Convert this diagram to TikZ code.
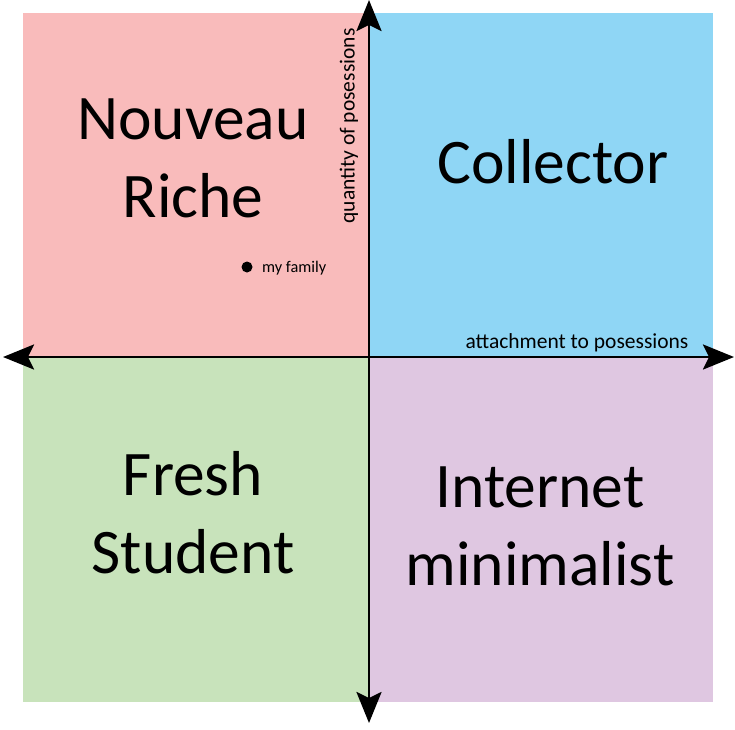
\documentclass[tikz,border=0pt]{standalone}
\usepackage{fontspec}
\setmainfont{Carlito}
\usetikzlibrary{arrows.meta}
\definecolor{qred}{HTML}{F9BBBB}
\definecolor{qblue}{HTML}{8FD6F5}
\definecolor{qgreen}{HTML}{C8E3BB}
\definecolor{qpurple}{HTML}{DFC7E1}
\tikzset{
  big/.style={font=\fontsize{63.5}{78}\selectfont, align=center, text=black},
  small/.style={font=\fontsize{21.5}{24}\selectfont, text=black, inner sep=0pt},
  axis/.style={line width=2.8pt, -{Stealth[length=31pt,width=25pt,inset=6pt]}},
}
\begin{document}
\begin{tikzpicture}[x=1pt,y=-1pt]
\useasboundingbox (0,0) rectangle (735,729);
\fill[white] (0,0) rectangle (735,729);
\fill[qred] (23,13) rectangle (369,357);
\fill[qblue] (369,13) rectangle (713,357);
\fill[qgreen] (23,357) rectangle (369,702);
\fill[qpurple] (369,357) rectangle (713,702);
\coordinate (c) at (369,357);
\coordinate (top) at (369,0);
\coordinate (bot) at (369,723);
\coordinate (lft) at (3,357);
\coordinate (rgt) at (734,357);
\draw[axis] (c) -- (top);
\draw[axis] (c) -- (bot);
\draw[axis] (c) -- (lft);
\draw[axis] (c) -- (rgt);
\node[big] (nr) at (193,158) {Nouveau\\Riche};
\node[big] (co) at (553,162) {Collector};
\node[big] (fs) at (193,513) {Fresh\\Student};
\node[big] (im) at (540,526) {Internet\\minimalist};
\node[small, rotate=90] (q) at (349,126) {quantity of posessions};
\node[small] (a) at (577,343) {attachment to posessions};
\fill[black] (247,267) circle (5.5pt) coordinate (dot);
\node[small, font=\fontsize{16.3}{18}\selectfont, anchor=west] (mf) at (262,268) {my family};
\end{tikzpicture}
\end{document}
